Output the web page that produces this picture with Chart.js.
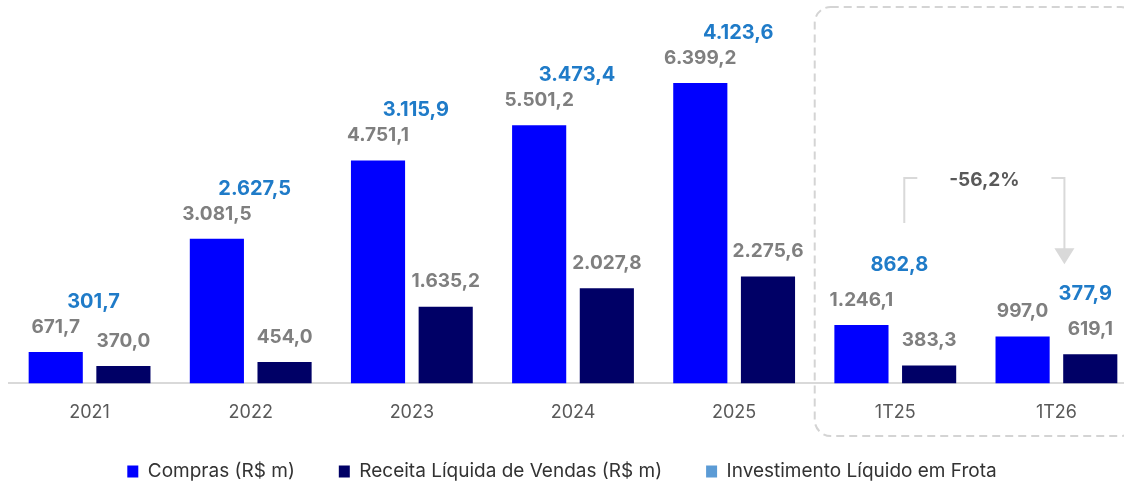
<!DOCTYPE html>
<html>
<head>
<meta charset="utf-8">
<script src="https://cdn.jsdelivr.net/npm/chart.js@4"></script>
<style>
  html, body { margin: 0; padding: 0; background: #fff; overflow: hidden; }
  #wrap { position: absolute; left: 0; top: 0; width: 1150px; height: 483px; }
</style>
</head>
<body>
<div id="wrap"><canvas id="chart"></canvas></div>
<script>
// Periods on the x axis
const periods = ['2021', '2022', '2023', '2024', '2025', '1T25', '1T26'];

// Series values (R$ m)
const compras = [671.7, 3081.5, 4751.1, 5501.2, 6399.2, 1246.1, 997.0];
const receita = [370.0, 454.0, 1635.2, 2027.8, 2275.6, 383.3, 619.1];
const investimento = [301.7, 2627.5, 3115.9, 3473.4, 4123.6, 862.8, 377.9];

// Variation note between the quarters
const variationText = '-56,2%';

// pt-BR number format: 6.399,2
function fmt(v) {
  return v.toLocaleString('pt-BR', { minimumFractionDigits: 1, maximumFractionDigits: 1 });
}

const FONT = 'Inter, "Noto Sans", sans-serif';

// Dashed rounded box around the quarterly comparison
const quarterBox = {
  id: 'quarterBox',
  beforeDatasetsDraw(chart) {
    const { ctx } = chart;
    const x = chart.scales.x;
    const catW = x.getPixelForValue(1) - x.getPixelForValue(0);
    const left = x.getPixelForValue(5) - catW / 2;
    const right = x.getPixelForValue(6) + catW / 2;
    const top = 7, bottom = 436, r = 16;
    ctx.save();
    ctx.strokeStyle = '#d4d4d4';
    ctx.lineWidth = 2;
    ctx.setLineDash([8, 5]);
    ctx.beginPath();
    ctx.roundRect(left, top, right - left, bottom - top, r);
    ctx.stroke();
    ctx.restore();
  }
};

// Value labels over the bars, investment labels over each group,
// and the bracket arrow between 1T25 and 1T26
const valueLabels = {
  id: 'valueLabels',
  afterDatasetsDraw(chart) {
    const { ctx } = chart;
    const m0 = chart.getDatasetMeta(0);
    const m1 = chart.getDatasetMeta(1);
    const x = chart.scales.x;
    const invY = [];

    ctx.save();
    ctx.textAlign = 'center';
    ctx.textBaseline = 'middle';

    periods.forEach((p, i) => {
      const b0 = m0.data[i], b1 = m1.data[i];
      const y0 = b0.y - 25, y1 = b1.y - 25;
      ctx.font = 'bold 19px ' + FONT;
      ctx.fillStyle = '#7f7f7f';
      ctx.fillText(fmt(compras[i]), b0.x, y0);
      ctx.fillText(fmt(receita[i]), b1.x, y1);

      // blue investment label above the higher of the two labels
      // (quarters inside the box get a bit more room)
      const gap = i >= 5 ? 35 : 25;
      let ix = x.getPixelForValue(i) + 4;
      let iy = Math.min(y0, y1) - gap;
      if (i === periods.length - 1) { // last one sits over the second bar
        ix = b1.x - 5;
        iy = y1 - gap;
      }
      invY[i] = iy;
      ctx.font = 'bold 20px ' + FONT;
      ctx.fillStyle = '#1f7bc8';
      ctx.fillText(fmt(investimento[i]), ix, iy);
    });

    // bracket + arrow
    const lx = x.getPixelForValue(5) + 9;
    const rx = x.getPixelForValue(6) + 8;
    const top = invY[5] - 87;
    ctx.strokeStyle = '#d9d9d9';
    ctx.fillStyle = '#d9d9d9';
    ctx.lineWidth = 2;
    ctx.beginPath();
    ctx.moveTo(lx + 13, top);
    ctx.lineTo(lx, top);
    ctx.lineTo(lx, invY[5] - 42);
    ctx.moveTo(rx - 13, top);
    ctx.lineTo(rx, top);
    ctx.lineTo(rx, invY[6] - 45);
    ctx.stroke();
    ctx.beginPath();
    ctx.moveTo(rx - 10, invY[6] - 46);
    ctx.lineTo(rx + 10, invY[6] - 46);
    ctx.lineTo(rx, invY[6] - 30);
    ctx.closePath();
    ctx.fill();

    ctx.font = 'bold 19px ' + FONT;
    ctx.fillStyle = '#595959';
    ctx.fillText(variationText, (lx + rx) / 2, top + 2);
    ctx.restore();
  }
};

// nudge the legend a little to the left, as in the original
const legendShift = {
  id: 'legendShift',
  afterLayout(chart) {
    chart.legend.left -= 11;
    chart.legend.right -= 11;
  }
};

new Chart(document.getElementById('chart'), {
  type: 'bar',
  data: {
    labels: periods,
    datasets: [
      {
        label: 'Compras (R$ m)',
        data: compras,
        backgroundColor: '#0000ff',
        categoryPercentage: 0.84,
        barPercentage: 0.8
      },
      {
        label: 'Receita Líquida de Vendas (R$ m)',
        data: receita,
        backgroundColor: '#000066',
        categoryPercentage: 0.84,
        barPercentage: 0.8
      },
      {
        type: 'line',
        label: 'Investimento Líquido em Frota',
        data: investimento,
        showLine: false,
        pointRadius: 0,
        borderWidth: 0,
        backgroundColor: '#5b9bd5',
        borderColor: '#5b9bd5'
      }
    ]
  },
  options: {
    responsive: true,
    maintainAspectRatio: false,
    animation: false,
    events: [],
    layout: { padding: { left: 9, right: 13, top: 8, bottom: -8 } },
    scales: {
      x: {
        grid: { display: false },
        border: { display: true, color: '#d9d9d9', width: 2 },
        ticks: { color: '#595959', font: { family: FONT, size: 18 }, padding: 10 },
        // pull the legend up closer to the tick labels
        afterFit(scale) { scale.height -= 15; }
      },
      y: {
        display: false,
        min: 0,
        max: 8000
      }
    },
    plugins: {
      tooltip: { enabled: false },
      legend: {
        position: 'bottom',
        labels: {
          color: '#333333',
          font: { family: FONT, size: 19 },
          boxWidth: 11,
          boxHeight: 12,
          padding: 44
        }
      }
    }
  },
  plugins: [quarterBox, valueLabels, legendShift]
});
</script>
</body>
</html>
